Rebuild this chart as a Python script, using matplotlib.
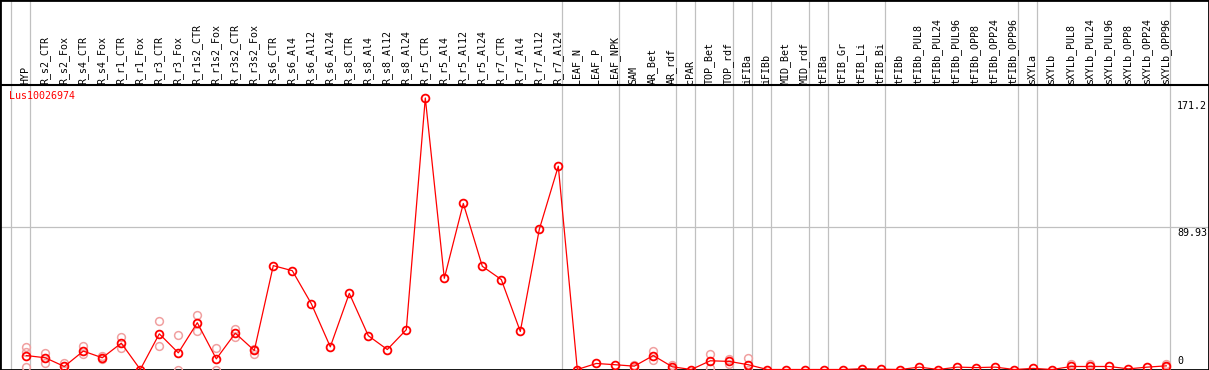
import numpy as np
import matplotlib
matplotlib.use("Agg")
import matplotlib.pyplot as plt
import matplotlib.transforms as mtransforms

# %% Data
gene = 'Lus10026974'

samples = ['HYP',
           'R_s2_CTR', 'R_s2_Fox', 'R_s4_CTR', 'R_s4_Fox', 'R_r1_CTR', 'R_r1_Fox',
           'R_r3_CTR', 'R_r3_Fox', 'R_r1s2_CTR', 'R_r1s2_Fox', 'R_r3s2_CTR', 'R_r3s2_Fox',
           'R_s6_CTR', 'R_s6_Al4', 'R_s6_Al12', 'R_s6_Al24',
           'R_s8_CTR', 'R_s8_Al4', 'R_s8_Al12', 'R_s8_Al24',
           'R_r5_CTR', 'R_r5_Al4', 'R_r5_Al12', 'R_r5_Al24',
           'R_r7_CTR', 'R_r7_Al4', 'R_r7_Al12', 'R_r7_Al24',
           'LEAF_N', 'LEAF_P', 'LEAF_NPK',
           'SAM', 'AR_Bet', 'AR_rdf',
           'cPAR',
           'TOP_Bet', 'TOP_rdf',
           'iFIBa', 'iFIBb',
           'MID_Bet', 'MID_rdf',
           'tFIBa',
           'tFIB_Gr', 'tFIB_Li', 'tFIB_Bi',
           'tFIBb', 'tFIBb_PUL8', 'tFIBb_PUL24', 'tFIBb_PUL96',
           'tFIBb_OPP8', 'tFIBb_OPP24', 'tFIBb_OPP96',
           'sXYLa',
           'sXYLb', 'sXYLb_PUL8', 'sXYLb_PUL24', 'sXYLb_PUL96',
           'sXYLb_OPP8', 'sXYLb_OPP24', 'sXYLb_OPP96']

# number of samples in each group (separated by grey lines)
group_sizes = [1, 28, 3, 3, 1, 2, 1, 1, 2, 1, 3, 7, 1, 7]

means = [8.8,
         7.4, 1.9, 11.6, 7.4, 16.6, 0.0,
         22.5, 10.5, 29.5, 6.7, 22.9, 12.0,
         65.5, 62.3, 41.5, 14.3,
         48.0, 21.3, 12.6, 25.1,
         171.2, 57.5, 104.7, 65.1,
         56.7, 24.0, 88.4, 128.2,
         0.0, 3.8, 3.0,
         2.1, 8.8, 1.7,
         0.0,
         5.5, 5.1,
         3.0, 0.0,
         0.0, 0.0,
         0.0,
         0.0, 0.5, 0.2,
         0.0, 1.5, 0.0, 1.5,
         1.2, 1.5, 0.0,
         0.7,
         0.0, 1.9, 1.9, 1.9,
         0.4, 1.5, 2.3]

replicates = [[14.1, 10.9, 1.5],
              [10.5, 4.2], [4.0, 0.0], [14.7, 9.5], [8.2, 6.7], [20.8, 13.5], [],
              [30.3, 14.7], [21.9, 0.0], [34.5, 24.2], [13.5, 0.0], [25.3, 20.4], [13.1, 9.5],
              [], [], [], [],
              [], [], [], [],
              [], [], [], [],
              [], [], [], [],
              [], [], [],
              [3.0, 1.2], [11.4, 6.3], [3.0, 0.5],
              [],
              [9.7, 1.1], [6.8, 3.4],
              [7.2, 0.0], [],
              [], [],
              [],
              [], [], [],
              [], [], [], [],
              [], [], [],
              [],
              [], [3.2, 0.6], [3.6, 0.2], [],
              [], [], [3.2, 1.4]]

ytick_values = [0, 89.93, 171.2]
ytick_labels = ['0', '89.93', '171.2']

# %% Layout (pixels of the 1209x370 picture)
W, H = 1209, 370
x0_px, step_px = 26.3, 19.0      # position of first sample and spacing
zero_px, peak_px = 369.5, 98.0   # pixel rows of 0 and of the maximum
header_px = 85                   # black line between labels and plot

fig = plt.figure(figsize=(W/100, H/100), dpi=100)
ax = fig.add_axes([0, 0, 1, 1])

scale = (zero_px - peak_px)/max(means)
ax.set_xlim(-x0_px/step_px, (W - x0_px)/step_px)
ax.set_ylim(-(H - zero_px)/scale, zero_px/scale)
ax.set_xticks([]); ax.set_yticks([])
for s in ax.spines.values():
    s.set_linewidth(2.0); s.set_color('black')

mono = 'DejaVu Sans Mono'
fs = 7.2

# group separator lines
starts = np.concatenate(([0], np.cumsum(group_sizes)))
for s in starts:
    ax.axvline(s - 0.82, color='#c0c0c0', lw=0.9, zorder=1)

# horizontal line under the header and the middle grid line
ax.axhline((zero_px - header_px)/scale, color='black', lw=1.5, zorder=2)
ax.axhline(ytick_values[1], color='#c0c0c0', lw=0.9, zorder=1)

x = np.arange(len(samples))

# replicate points
for i, reps in enumerate(replicates):
    if reps:
        ax.plot([i]*len(reps), reps, 'o', mfc='none', mec='#f0a0a0',
                ms=5.6, mew=1.1, zorder=3)

# mean profile
ax.plot(x, means, '-', color='red', lw=0.9, zorder=4)
ax.plot(x, means, 'o', mfc='none', mec='red', ms=5.6, mew=1.3, zorder=5)

# sample labels
trans = mtransforms.blended_transform_factory(ax.transData, ax.transAxes)
for i, name in enumerate(samples):
    ax.text(i - 0.05, 1 - 84/H, name, transform=trans, rotation=90,
            ha='center', va='bottom', fontsize=fs, family=mono, color='black')

# gene name
ax.text(9/W, 1 - 91/H, gene, transform=ax.transAxes, color='red',
        fontsize=fs, family=mono, ha='left', va='top')

# value labels on the right
offsets = [(3, 'bottom'), (-1, 'top'), (-3, 'top')]
for v, lab, (dy, va) in zip(ytick_values, ytick_labels, offsets):
    ax.annotate(lab, xy=(1177/W, v), xycoords=('axes fraction', 'data'),
                xytext=(0, dy), textcoords='offset pixels',
                fontsize=fs, family=mono, ha='left', va=va)

fig.savefig('out.png', dpi=100)
